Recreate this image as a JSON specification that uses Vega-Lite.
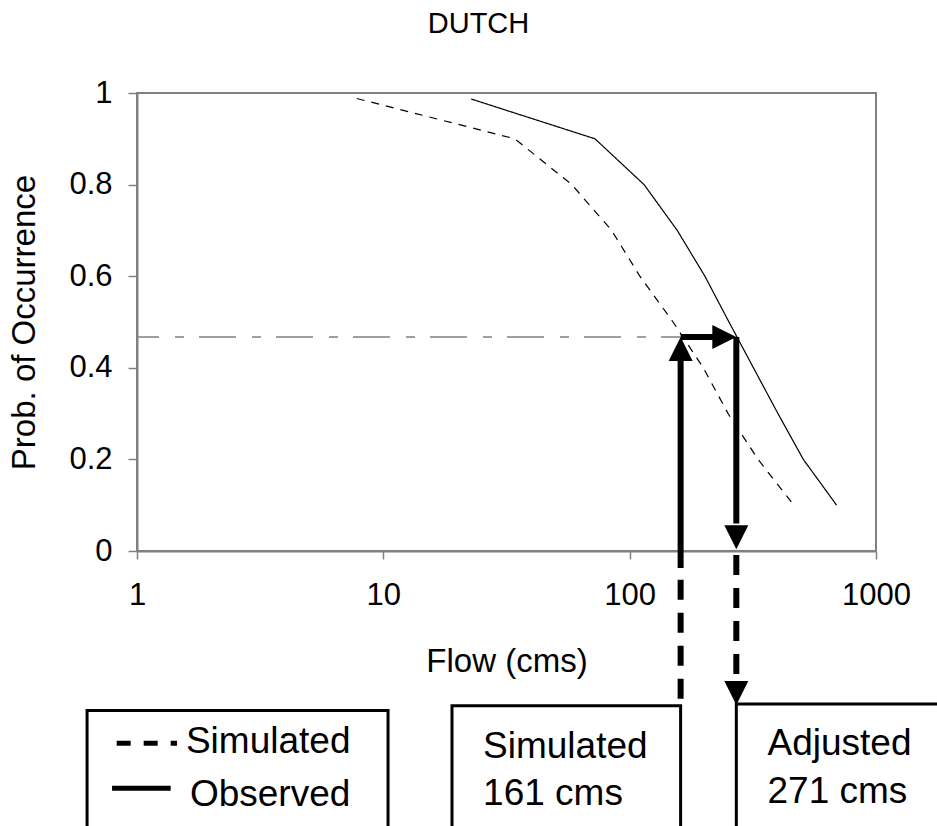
{
  "$schema": "https://vega.github.io/schema/vega-lite/v6.json",
  "width": 739,
  "height": 458,
  "autosize": {"type": "none"},
  "padding": {"left": 137, "top": 93, "right": 61, "bottom": 275},
  "background": "white",
  "config": {
    "font": "Liberation Sans",
    "view": {"stroke": "#808080", "strokeWidth": 2},
    "axis": {"grid": false}
  },
  "title": {
    "text": "DUTCH",
    "fontSize": 29,
    "fontWeight": "normal",
    "font": "Liberation Sans",
    "color": "black",
    "frame": "group",
    "anchor": "middle",
    "baseline": "alphabetic",
    "offset": 15,
    "dx": -28
  },
  "encoding": {
    "x": {
      "field": "flow",
      "type": "quantitative",
      "scale": {"type": "log", "domain": [1, 1000], "nice": false},
      "axis": {
        "title": "Flow (cms)",
        "values": [1, 10, 100, 1000],
        "format": "~g",
        "labelFlush": false,
        "labelOverlap": false,
        "labelBound": false,
        "tickSize": 8,
        "tickColor": "#808080",
        "tickWidth": 1.5,
        "domainColor": "#808080",
        "domainWidth": 2,
        "labelPadding": 21,
        "labelFontSize": 31,
        "labelColor": "black",
        "titleFontSize": 33,
        "titleFontWeight": "normal",
        "titleColor": "black",
        "titlePadding": 35
      }
    },
    "y": {
      "field": "prob",
      "type": "quantitative",
      "scale": {"domain": [0, 1], "nice": false, "zero": false},
      "axis": {
        "title": "Prob. of Occurrence",
        "values": [0, 0.2, 0.4, 0.6, 0.8, 1],
        "format": "~g",
        "labelFlush": false,
        "labelOverlap": false,
        "labelBound": false,
        "tickSize": 9,
        "tickColor": "#808080",
        "tickWidth": 1.5,
        "domainColor": "#808080",
        "domainWidth": 2,
        "labelPadding": 16,
        "labelFontSize": 31,
        "labelColor": "black",
        "titleFontSize": 33,
        "titleFontWeight": "normal",
        "titleColor": "black",
        "titlePadding": 27
      }
    }
  },
  "layer": [
    {
      "data": {
        "values": [
          {"series": "Simulated", "flow": 7.8, "prob": 0.988},
          {"series": "Simulated", "flow": 34.2, "prob": 0.9},
          {"series": "Simulated", "flow": 58.2, "prob": 0.8},
          {"series": "Simulated", "flow": 84.5, "prob": 0.7},
          {"series": "Simulated", "flow": 110, "prob": 0.6},
          {"series": "Simulated", "flow": 150, "prob": 0.5},
          {"series": "Simulated", "flow": 199, "prob": 0.4},
          {"series": "Simulated", "flow": 251, "prob": 0.3},
          {"series": "Simulated", "flow": 332, "prob": 0.2},
          {"series": "Simulated", "flow": 464, "prob": 0.1},
          {"series": "Observed", "flow": 22.7, "prob": 0.987},
          {"series": "Observed", "flow": 72.3, "prob": 0.9},
          {"series": "Observed", "flow": 114.4, "prob": 0.8},
          {"series": "Observed", "flow": 156, "prob": 0.7},
          {"series": "Observed", "flow": 202, "prob": 0.6},
          {"series": "Observed", "flow": 253, "prob": 0.5},
          {"series": "Observed", "flow": 318, "prob": 0.4},
          {"series": "Observed", "flow": 400, "prob": 0.3},
          {"series": "Observed", "flow": 507, "prob": 0.2},
          {"series": "Observed", "flow": 692, "prob": 0.1}
        ]
      },
      "mark": {"type": "line", "color": "black", "strokeWidth": 1.2},
      "encoding": {
        "detail": {"field": "series", "type": "nominal"},
        "strokeDash": {
          "field": "series",
          "type": "nominal",
          "scale": {"domain": ["Simulated", "Observed"], "range": [[8, 7], [1, 0]]},
          "legend": null
        }
      }
    },
    {
      "data": {"values": [{"flow": 1, "flow2": 161, "prob": 0.467, "prob2": 0.467}]},
      "mark": {"type": "rule", "color": "#808080", "strokeWidth": 1.5, "strokeDash": [37, 16, 9, 15], "strokeDashOffset": 15},
      "encoding": {"x2": {"field": "flow2"}, "y2": {"field": "prob2"}}
    },
    {
      "data": {
        "values": [
          {"flow": 161, "flow2": 161, "prob": -0.037, "prob2": 0.43},
          {"flow": 161, "flow2": 226, "prob": 0.467, "prob2": 0.467},
          {"flow": 271, "flow2": 271, "prob": 0.467, "prob2": 0.06}
        ]
      },
      "mark": {"type": "rule", "color": "black", "strokeWidth": 6},
      "encoding": {"x2": {"field": "flow2"}, "y2": {"field": "prob2"}}
    },
    {
      "data": {
        "values": [
          {"flow": 161, "flow2": 161, "prob": -0.063, "prob2": -0.34},
          {"flow": 271, "flow2": 271, "prob": -0.009, "prob2": -0.285}
        ]
      },
      "mark": {"type": "rule", "color": "black", "strokeWidth": 6, "strokeDash": [20, 13]},
      "encoding": {"x2": {"field": "flow2"}, "y2": {"field": "prob2"}}
    },
    {
      "data": {
        "values": [
          {"flow": 161, "prob": 0.467, "dir": "up"},
          {"flow": 271, "prob": 0.467, "dir": "right"},
          {"flow": 271, "prob": 0.004, "dir": "down"},
          {"flow": 271, "prob": -0.336, "dir": "down"}
        ]
      },
      "mark": {"type": "point", "filled": true, "color": "black", "opacity": 1, "size": 576, "strokeWidth": 0},
      "encoding": {
        "shape": {
          "field": "dir",
          "type": "nominal",
          "scale": {"domain": ["up", "right", "down"], "range": ["M0,0L-1,2L1,2Z", "M0,0L-2,-1L-2,1Z", "M0,0L-1,-2L1,-2Z"]},
          "legend": null
        }
      }
    },
    {
      "data": {
        "values": [
          {"flow": 0.627, "flow2": 10.45, "prob": -0.348, "prob2": -0.75},
          {"flow": 19.0, "flow2": 161, "prob": -0.338, "prob2": -0.75},
          {"flow": 271, "flow2": 3000, "prob": -0.334, "prob2": -0.75}
        ]
      },
      "mark": {"type": "rect", "filled": false, "stroke": "black", "strokeWidth": 3},
      "encoding": {"x2": {"field": "flow2"}, "y2": {"field": "prob2"}}
    },
    {
      "data": {"values": [{"flow": 0.827, "flow2": 1.454, "prob": -0.42, "prob2": -0.42}]},
      "mark": {"type": "rule", "color": "black", "strokeWidth": 5, "strokeDash": [14, 13]},
      "encoding": {"x2": {"field": "flow2"}, "y2": {"field": "prob2"}}
    },
    {
      "data": {"values": [{"flow": 0.792, "flow2": 1.37, "prob": -0.518, "prob2": -0.518}]},
      "mark": {"type": "rule", "color": "black", "strokeWidth": 5},
      "encoding": {"x2": {"field": "flow2"}, "y2": {"field": "prob2"}}
    },
    {
      "data": {
        "values": [
          {"label": "Simulated", "flow": 1.58, "prob": -0.442},
          {"label": "Observed", "flow": 1.64, "prob": -0.557},
          {"label": "Simulated", "flow": 25.4, "prob": -0.452},
          {"label": "161 cms", "flow": 25.4, "prob": -0.555},
          {"label": "Adjusted", "flow": 362.7, "prob": -0.445},
          {"label": "271 cms", "flow": 362.7, "prob": -0.55}
        ]
      },
      "mark": {"type": "text", "align": "left", "baseline": "alphabetic", "fontSize": 37, "color": "black", "font": "Liberation Sans"},
      "encoding": {"text": {"field": "label"}}
    }
  ]
}
